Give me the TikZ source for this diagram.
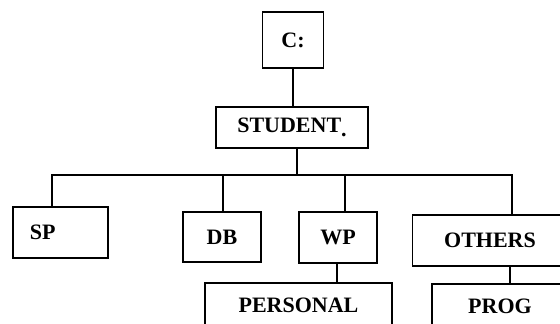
\documentclass[tikz,border=0pt]{standalone}
\usepackage{fontspec}
\setmainfont{Liberation Serif}
\usetikzlibrary{calc}

\begin{document}
\begin{tikzpicture}[x=1pt, y=-1pt, line width=1.3pt]

\tikzstyle{folder} = [draw, rectangle, inner sep=0pt, font=\fontsize{22}{26}\selectfont\bfseries]

\useasboundingbox (0,0) rectangle (560,324);
\clip (0,0) rectangle (560,324);

\node[folder, minimum width=61pt, minimum height=56pt] (c) at (293,40) {C:};
\node[folder, minimum width=152pt, minimum height=41pt] (student) at (292,127.5) {STUDENT\raisebox{-4pt}{.}};

\node[folder, minimum height=51pt, text width=61pt, inner xsep=17pt, align=left] (sp) at (60.5,232.5) {SP};
\node[folder, minimum width=78pt, minimum height=50pt] (db) at (222,237) {DB};
\node[folder, minimum width=78pt, minimum height=51pt] (wp) at (338,237.5) {WP};
\node[folder, minimum width=155pt, minimum height=51pt] (others) at (490,240.5) {OTHERS};

\node[folder, minimum width=187pt, minimum height=44pt] (personal) at (298.5,305) {PERSONAL};
\node[folder, minimum width=136pt, minimum height=44pt] (prog) at (500,306) {PROG};

\coordinate (bus) at (0,175);

\draw (c.south) -- (c.south |- student.north);
\draw ([xshift=5pt]student.south) -- ([xshift=5pt]student.south |- bus);
\draw ([xshift=-8.5pt]sp.north) |- ([xshift=22pt]others.north |- bus) -- ([xshift=22pt]others.north);
\draw ([xshift=1pt]db.north) -- ([xshift=1pt]db.north |- bus);
\draw ([xshift=7pt]wp.north) -- ([xshift=7pt]wp.north |- bus);

\draw ([xshift=-1pt]wp.south) -- ([xshift=-1pt]wp.south |- personal.north);
\draw ([xshift=20pt]others.south) -- ([xshift=20pt]others.south |- prog.north);

\end{tikzpicture}
\end{document}
